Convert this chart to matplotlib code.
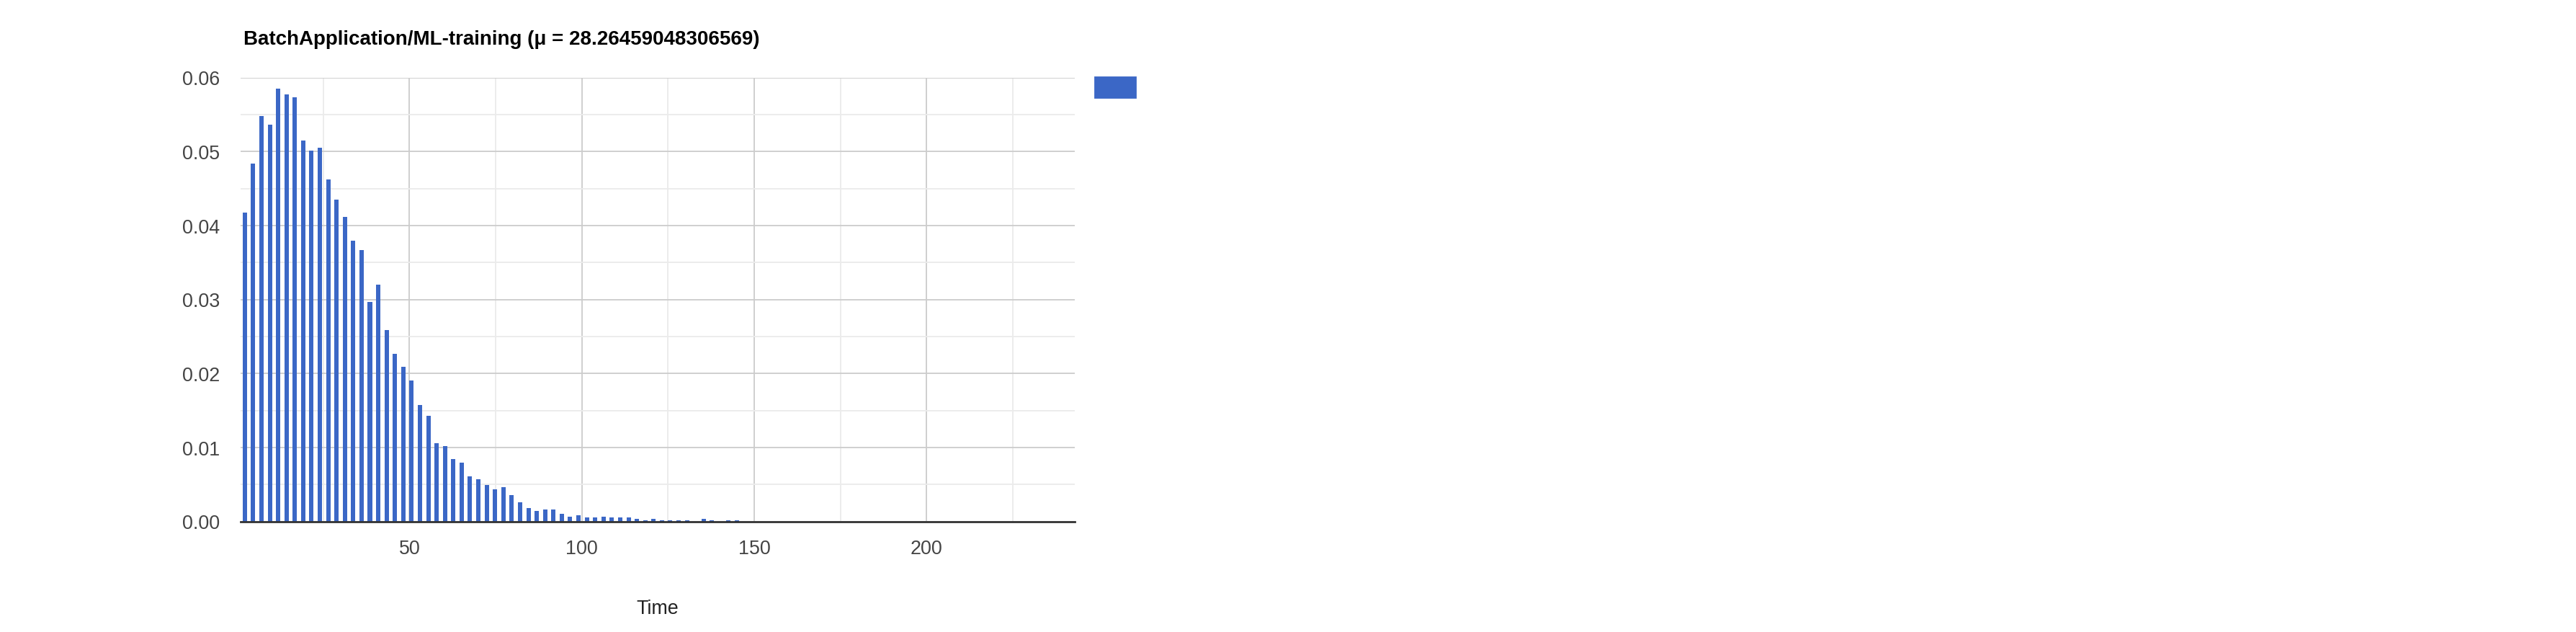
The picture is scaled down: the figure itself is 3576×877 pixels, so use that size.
import numpy as np
import matplotlib
matplotlib.use("Agg")
import matplotlib.pyplot as plt
from matplotlib.patches import Rectangle

# histogram for one job class
title = "BatchApplication/ML-training (\u03bc = 28.26459048306569)"
x_label = "Time"
bin_start = 1.02
bin_width = 2.42
freq = [0.0417, 0.0484, 0.0548, 0.0536, 0.0585, 0.0577, 0.0573, 0.0515, 0.0501, 0.0505,
        0.0462, 0.0435, 0.0412, 0.0379, 0.0367, 0.0297, 0.0320, 0.0259, 0.0226, 0.0209,
        0.0190, 0.0157, 0.0143, 0.0106, 0.0102, 0.0084, 0.0079, 0.0061, 0.0057, 0.0049,
        0.0043, 0.0046, 0.0036, 0.0026, 0.0018, 0.0014, 0.0016, 0.0016, 0.0010, 0.0006,
        0.0008, 0.0005, 0.0005, 0.0006, 0.0005, 0.0005, 0.0005, 0.0003, 0.0001, 0.0003,
        0.0001, 0.0001, 0.0001, 0.0001, 0.0, 0.0003, 0.0001, 0.0, 0.0001, 0.0001]
x_major = [50, 100, 150, 200]
x_minor = [25, 75, 125, 175, 225]
y_major = [0.0, 0.01, 0.02, 0.03, 0.04, 0.05, 0.06]
y_minor = [0.005, 0.015, 0.025, 0.035, 0.045, 0.055]
x_max = 243.0

plt.rcParams['font.family'] = ['Liberation Sans', 'DejaVu Sans']

W, H, DPI = 3576, 878, 200
fig = plt.figure(figsize=(W / DPI, H / DPI), dpi=DPI)

# plot area in pixels: x 334..1492, y 108.5..724.5
ax = fig.add_axes([334 / W, (H - 724.5) / H, (1492 - 334) / W, (724.5 - 108.5) / H])

centers = bin_start + bin_width * (np.arange(len(freq)) + 0.5)
ax.bar(centers, freq, width=bin_width * 0.52, color='#3b67c6', zorder=3)

ax.set_xlim(bin_start, x_max)
ax.set_ylim(0, 0.06)
ax.set_xticks(x_major)
ax.set_xticks(x_minor, minor=True)
ax.set_yticks(y_major)
ax.set_yticks(y_minor, minor=True)
ax.set_yticklabels(['%.2f' % v for v in y_major])

ax.grid(which='major', color='#cccccc', linewidth=0.65, zorder=0)
ax.grid(which='minor', color='#ebebeb', linewidth=0.65, zorder=0)
ax.set_axisbelow(True)

for s in ['top', 'right', 'left']:
    ax.spines[s].set_visible(False)
ax.spines['bottom'].set_color('#333333')
ax.spines['bottom'].set_linewidth(1.0)
ax.spines['bottom'].set_zorder(4)

ax.tick_params(which='both', length=0)
ax.tick_params(axis='y', labelsize=9.7, labelcolor='#444444', pad=10.4)
ax.tick_params(axis='x', labelsize=9.7, labelcolor='#444444', pad=9)

fig.text(338 / W, (H - 62) / H, title, fontsize=10.0, fontweight='bold',
         color='#000000', ha='left', va='baseline')
fig.text(913 / W, (H - 845) / H, x_label, fontsize=9.7, color='#222222',
         ha='center', va='center')

# legend swatch (no label text in the original)
fig.patches.append(Rectangle((1520 / W, (H - 136) / H), 56 / W, 28 / H,
                             transform=fig.transFigure, color='#3b67c6'))

fig.savefig('out.png', dpi=DPI, facecolor='white')
